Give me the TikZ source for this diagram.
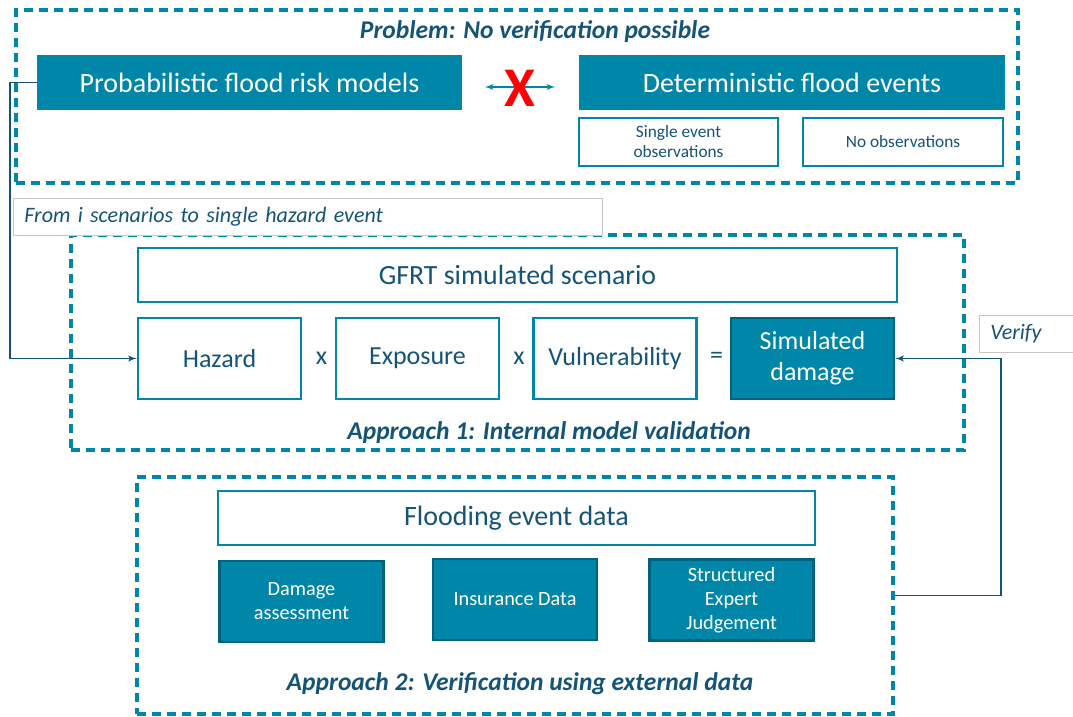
\documentclass[tikz,border=0pt]{standalone}
\usepackage{fontspec}
\setmainfont{Carlito}
\usepackage{tikz}
\usetikzlibrary{arrows}
\definecolor{riverteal}{RGB}{0,134,168}
\definecolor{deepteal}{RGB}{0,98,126}
\definecolor{navytext}{RGB}{20,84,120}
\tikzset{
    >=latex',
    frame/.style={draw=riverteal, line width=3.2pt, dash pattern=on 9pt off 6pt, inner sep=0pt},
    heading/.style={navytext, font=\fontsize{25.5}{30}\selectfont\bfseries\itshape},
    tealbox/.style={fill=riverteal, text=white, inner sep=0pt, align=center},
    outlinebox/.style={draw=riverteal, line width=2.5pt, fill=white, text=navytext, inner sep=0pt, align=center},
    databox/.style={tealbox, draw=deepteal, line width=2.5pt},
    factor/.style={minimum width=163pt, minimum height=81pt, font=\fontsize{26}{31}\selectfont},
    source/.style={minimum width=164pt, minimum height=81pt, font=\fontsize{20.3}{24}\selectfont},
    tag/.style={draw=gray!45, line width=0.8pt, fill=white, text=navytext, inner xsep=11pt,
        font=\fontsize{22}{26}\selectfont\itshape, align=left, anchor=north west},
    connector/.style={->, draw=navytext, line width=1.9pt},
}

\begin{document}
\begin{tikzpicture}[x=1pt, y=-1pt]
    \useasboundingbox (0,0) rectangle (1073,716);
    % the three dashed groups
    \node[frame, minimum width=1002pt, minimum height=173pt] (problem) at (517,96.5) {};
    \node[frame, minimum width=893pt, minimum height=215pt] (approach1) at (517.5,342.5) {};
    \node[frame, minimum width=756pt, minimum height=237pt] (approach2) at (515,595.5) {};
    \node[heading] (problemtitle) at (535,32) {Problem: No verification possible};
    \node[heading] (approach1title) at (549,433) {Approach 1: Internal model validation};
    \node[heading] (approach2title) at (520,684) {Approach 2: Verification using external data};

    % problem statement
    \node[tealbox, minimum width=425pt, minimum height=55pt, font=\fontsize{28}{33}\selectfont] (prob) at (249.5,82.5) {Probabilistic flood risk models};
    \node[tealbox, minimum width=426pt, minimum height=55pt, font=\fontsize{28}{33}\selectfont] (determ) at (792,82.5) {Deterministic flood events};
    \node[outlinebox, minimum width=199pt, minimum height=48pt, font=\fontsize{17.3}{20}\selectfont] (single) at (678.5,142) {Single event\\observations};
    \node[outlinebox, minimum width=200pt, minimum height=48pt, font=\fontsize{17.3}{20}\selectfont] (noobs) at (903,142) {No observations};
    \coordinate (arrowleft) at (485,87);
    \coordinate (arrowright) at (555,87);
    \draw[<->, riverteal, line width=1.8pt] (arrowleft) -- (arrowright);
    \node[red, font=\fontsize{56}{56}\selectfont\bfseries] (cross) at (520,88) {X};

    % approach 1
    \node[outlinebox, minimum width=759pt, minimum height=54pt, font=\fontsize{27.8}{33}\selectfont] (gfrt) at (517.5,275) {GFRT simulated scenario};
    \foreach \name/\x/\txt in {hazard/219.5/Hazard, exposure/417.5/Exposure, vuln/615/Vulnerability}
        \node[outlinebox, factor] (\name) at (\x,358.5) {\txt};
    \node[databox, factor] (simdmg) at (812.5,358.5) {Simulated\\damage};
    \foreach \x/\op [count=\i] in {321.5/x, 519/x, 716.5/=}
        \node[navytext, font=\fontsize{26}{30}\selectfont] (op\i) at (\x,358) {\op};

    % approach 2
    \node[outlinebox, minimum width=597pt, minimum height=54pt, font=\fontsize{28}{33}\selectfont] (floodData) at (516.5,518) {Flooding event data};
    \foreach \name/\x/\y/\txt in {dmg/301.5/601.5/{Damage\\assessment}, ins/515/599.5/{Insurance Data}, sej/731.5/600/{Structured\\Expert\\Judgement}}
        \node[databox, source] (\name) at (\x,\y) {\txt};

    % labels on the links
    \node[tag, minimum height=37pt, text width=567pt] (fromlbl) at (13,198) {From i scenarios to single hazard event};
    \node[tag, minimum height=37pt, text width=90pt] (verifylbl) at (979,315) {Verify};

    \coordinate (lbend) at (10,82.5);
    \coordinate (rbend) at (1001,595.5);
    \draw[connector] (prob.west) -- (lbend) |- (hazard.west);
    \draw[connector] (approach2.east) -- (rbend) |- (simdmg.east);
\end{tikzpicture}
\end{document}
